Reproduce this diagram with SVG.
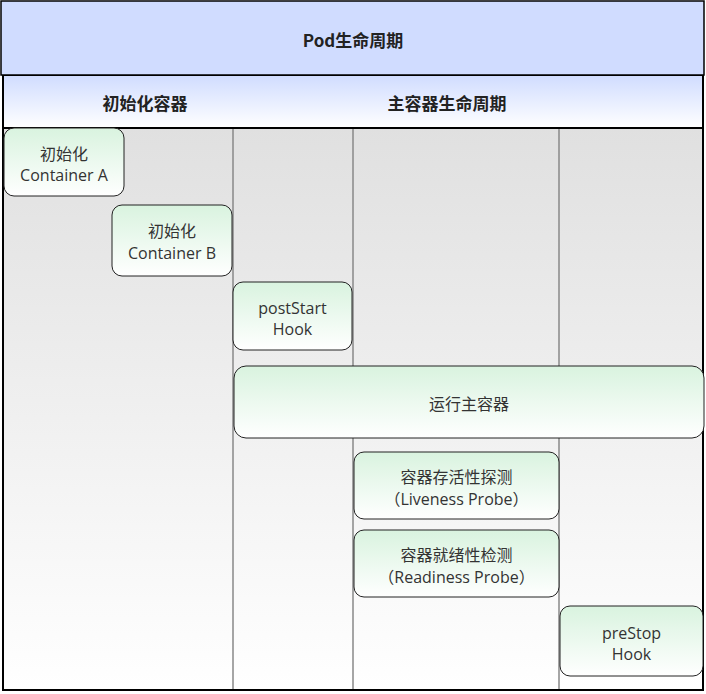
<svg xmlns="http://www.w3.org/2000/svg" width="706" height="694" viewBox="0 0 706 694">
<defs>
<linearGradient id="hdr" x1="0" y1="0" x2="0" y2="1"><stop offset="0" stop-color="#d0dcff"/><stop offset="1" stop-color="#ffffff"/></linearGradient>
<linearGradient id="body" x1="0" y1="0" x2="0" y2="1"><stop offset="0" stop-color="#e0e0e0"/><stop offset="1" stop-color="#ffffff"/></linearGradient>
<linearGradient id="node" x1="0" y1="0" x2="0" y2="1"><stop offset="0" stop-color="#d9f3df"/><stop offset="1" stop-color="#ffffff"/></linearGradient>
<style>
text{font-family:"Open Sans","Noto Sans CJK SC",sans-serif;fill:#333;text-anchor:middle;}
.t{font-size:16px;}
.b{font-size:17px;font-weight:bold;fill:#222;font-family:"Noto Sans CJK SC",sans-serif;}
.n{fill:url(#node);stroke:#222;stroke-width:1;}
.lane{stroke:#888;stroke-width:1.5;}
</style>
</defs>
<g id="frame">
<rect x="3" y="128" width="700" height="562" fill="url(#body)" stroke="#000" stroke-width="2"/>
<rect x="3" y="75" width="700" height="53" fill="url(#hdr)" stroke="#000" stroke-width="2"/>
<rect x="1" y="1" width="703" height="74" fill="#d0dcff" stroke="#000" stroke-width="1.5"/>
<text class="b" x="353" y="47">Pod生命周期</text>
<text class="b" x="145" y="110">初始化容器</text>
<text class="b" x="447" y="110">主容器生命周期</text>
</g>
<g id="lanes">
<line class="lane" x1="233" y1="129" x2="233" y2="689"/>
<line class="lane" x1="353" y1="129" x2="353" y2="689"/>
<line class="lane" x1="559" y1="129" x2="559" y2="689"/>
</g>
<g id="initA"><rect class="n" x="4" y="128" width="120" height="68" rx="10"/><text class="t" x="64" y="160">初始化</text><text class="t" x="64" y="181">Container A</text></g>
<g id="initB"><rect class="n" x="112" y="205" width="120" height="71" rx="10"/><text class="t" x="172" y="237">初始化</text><text class="t" x="172" y="259">Container B</text></g>
<g id="postStart"><rect class="n" x="233" y="282" width="119" height="68" rx="10"/><text class="t" x="292.5" y="314">postStart</text><text class="t" x="292.5" y="335">Hook</text></g>
<g id="main"><rect class="n" x="234" y="366" width="470" height="72" rx="12"/><text class="t" x="469" y="410">运行主容器</text></g>
<g id="liveness"><rect class="n" x="354" y="452" width="205" height="67" rx="10"/><text class="t" x="456.5" y="483">容器存活性探测</text><text class="t" x="456.5" y="505">（Liveness Probe）</text></g>
<g id="readiness"><rect class="n" x="354" y="530" width="205" height="67" rx="10"/><text class="t" x="456.5" y="561">容器就绪性检测</text><text class="t" x="456.5" y="583">（Readiness Probe）</text></g>
<g id="preStop"><rect class="n" x="560" y="606" width="143" height="70" rx="10"/><text class="t" x="631.5" y="639">preStop</text><text class="t" x="631.5" y="660">Hook</text></g>
<g id="connectors"></g>
</svg>
